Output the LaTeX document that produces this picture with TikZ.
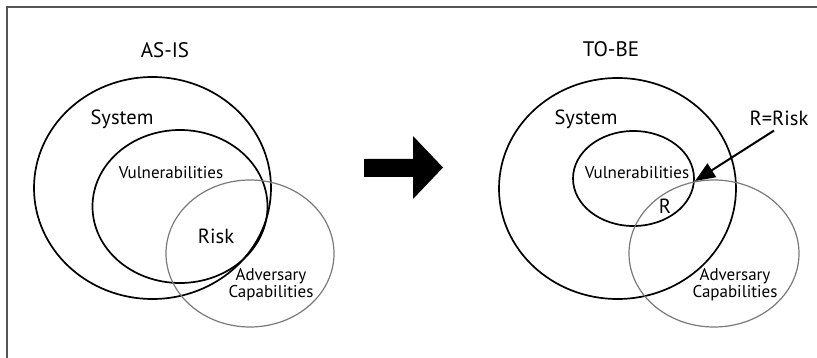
\documentclass[tikz,border=0pt]{standalone}
\usepackage{fontspec}
\setmainfont{PT Sans}
\usetikzlibrary{arrows.meta}
\definecolor{framegray}{HTML}{555555}
\definecolor{advgray}{HTML}{7A7A7A}
\begin{document}
\begin{tikzpicture}[x=1pt,y=-1pt,
  bigset/.style={draw=black,line width=1.7pt},
  advset/.style={draw=advgray,line width=1.2pt},
  title/.style={font=\fontsize{21}{23}\selectfont,inner sep=0pt},
  lbl/.style={font=\fontsize{20.5}{22}\selectfont,inner sep=0pt},
  small/.style={font=\fontsize{17}{19}\selectfont,inner sep=0pt,align=center},
  pointer/.style={line width=2pt,-{Triangle[length=20pt,width=16pt]}}]
\useasboundingbox (0,0) rectangle (817,358);
\fill[white] (0,0) rectangle (817,358);
% frame (top and left edges)
\draw[framegray,line width=2.2pt] (7,358) -- (7,7) -- (817,7);

% ---------- AS-IS ----------
\node[title] (asis) at (165,50) {AS-IS};
\draw[bigset] (152.5,188) ellipse [x radius=118.5, y radius=111];
\draw[bigset] (180,206.5) ellipse [x radius=87.5, y radius=76.5];
\draw[advset] (250,253.5) ellipse [x radius=84, y radius=73.5];
\node[lbl] (sysA) at (122,119) {System};
\node[small] (vulA) at (171,173) {Vulnerabilities};
\node[lbl] (riskA) at (216,236) {Risk};
\node[small] (advA) at (271,284.5) {Adversary\\[-2pt]Capabilities};

% ---------- transition arrow ----------
\fill[black] (364,159) -- (413,159) -- (413,136) -- (443,167.5) -- (413,199) -- (413,177) -- (364,177) -- cycle;

% ---------- TO-BE ----------
\node[title] (tobe) at (611,49) {TO-BE};
\draw[bigset] (617.5,188.5) ellipse [x radius=118.5, y radius=110.5];
\draw[bigset] (633.5,178.5) ellipse [x radius=60.5, y radius=47.5];
\draw[advset] (714,253.5) ellipse [x radius=85, y radius=73.5];
\node[lbl] (sysB) at (586,119) {System};
\node[small] (vulB) at (637,173) {Vulnerabilities};
\node[lbl] (rB) at (665,206) {R};
\node[small] (advB) at (735,285) {Adversary\\[-2pt]Capabilities};
\node[lbl] (rlabel) at (779,118) {R=Risk};
\coordinate (rtip) at (695,181);
\draw[pointer] ([xshift=-5pt,yshift=-5pt]rlabel.south) -- (rtip);
\end{tikzpicture}
\end{document}
